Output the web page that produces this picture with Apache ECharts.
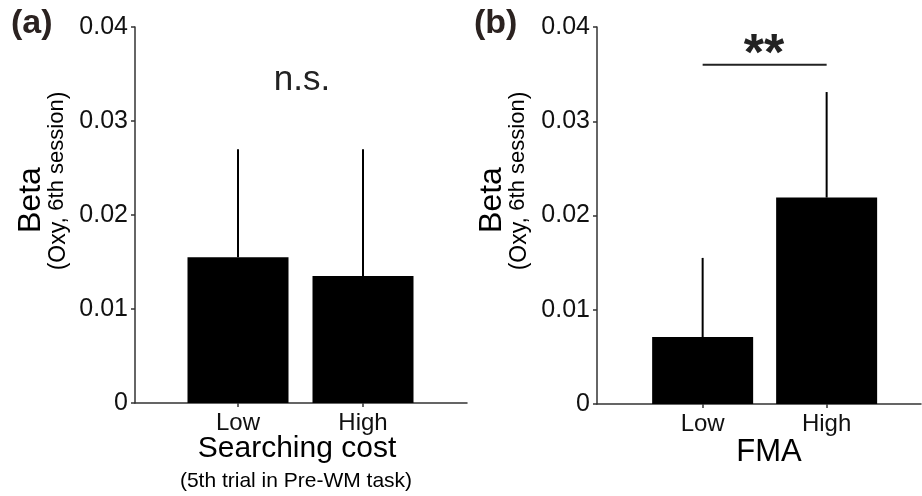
<!DOCTYPE html>
<html><head><meta charset="utf-8">
<script src="https://cdn.jsdelivr.net/npm/echarts@6/dist/echarts.min.js"></script>
<style>html,body{margin:0;padding:0;background:#fff}#c{width:922px;height:496px}</style>
</head><body><div id="c"></div>
<script>
// ---- data ----
const categories = ['Low', 'High'];
const categoryPos = [1, 2];
const meansA = [0.0155, 0.0135];   // Searching cost
const upperA = [0.027, 0.027];     // top of error bars
const meansB = [0.0071, 0.0219];   // FMA
const upperB = [0.0155, 0.0331];
const yMin = 0, yMax = 0.04, yStep = 0.01;
const sigLevelB = 0.036;           // ** bracket level in panel b

const FONT = "'Liberation Sans', Arial, Helvetica, sans-serif";
const chart = echarts.init(document.getElementById('c'), null, {renderer: 'canvas'});

function yAxisCfg(gi) {
  return {
    type: 'value', gridIndex: gi, min: yMin, max: yMax, interval: yStep,
    axisLine: {show: true, lineStyle: {color: '#333', width: 1.5}},
    axisTick: {show: true, length: 4, lineStyle: {color: '#333', width: 1.5}},
    splitLine: {show: false},
    axisLabel: {fontFamily: FONT, fontSize: 25, color: '#111', margin: 7,
      formatter: v => v === 0 ? '0' : v.toFixed(2)}
  };
}
function xAxisCfg(gi, min, max) {
  return {
    type: 'value', gridIndex: gi, min: min, max: max,
    axisLine: {show: true, lineStyle: {color: '#333', width: 1.5}},
    axisTick: {show: true, length: 4, customValues: categoryPos, lineStyle: {color: '#333', width: 1.5}},
    splitLine: {show: false},
    axisLabel: {fontFamily: FONT, fontSize: 24, color: '#111', margin: 8,
      customValues: categoryPos,
      formatter: v => categories[categoryPos.indexOf(Math.round(v))] || ''}
  };
}
function errRender(params, api) {
  const x = api.value(0), lo = api.value(1), hi = api.value(2);
  const p1 = api.coord([x, lo]), p2 = api.coord([x, hi]);
  return {type: 'line', shape: {x1: p1[0], y1: p1[1], x2: p2[0], y2: p2[1]},
          style: {stroke: '#000', lineWidth: 2}};
}
const barData = (means) => categoryPos.map((p, i) => [p, means[i]]);
const errData = (means, up) => categoryPos.map((p, i) => [p, means[i], up[i]]);

const subRich = {
  p: {fontFamily: FONT, fontSize: 23, lineHeight: 25, verticalAlign: 'bottom', fill: '#000'},
  s: {fontFamily: FONT, fontSize: 22, lineHeight: 25, verticalAlign: 'top', fill: '#000'}
};

const option = {
  backgroundColor: '#fff',
  animation: false,
  grid: [
    {left: 135, right: 455, top: 27, bottom: 93, containLabel: false, outerBoundsMode: 'none'},
    {left: 597, right: 1, top: 27, bottom: 92, containLabel: false, outerBoundsMode: 'none'}
  ],
  xAxis: [xAxisCfg(0, 0.176, 2.832), xAxisCfg(1, 0.148, 2.761)],
  yAxis: [yAxisCfg(0), yAxisCfg(1)],
  series: [
    {type: 'bar', xAxisIndex: 0, yAxisIndex: 0, barWidth: 101, data: barData(meansA),
     itemStyle: {color: '#000'}, z: 2},
    {type: 'custom', xAxisIndex: 0, yAxisIndex: 0, renderItem: errRender,
     data: errData(meansA, upperA), encode: {x: 0, y: [1, 2]}, z: 3},
    {type: 'bar', xAxisIndex: 1, yAxisIndex: 1, barWidth: 101, data: barData(meansB),
     itemStyle: {color: '#000'}, z: 2},
    {type: 'custom', xAxisIndex: 1, yAxisIndex: 1, renderItem: errRender,
     data: errData(meansB, upperB), encode: {x: 0, y: [1, 2]}, z: 3},
    {type: 'line', xAxisIndex: 1, yAxisIndex: 1, symbol: 'none', silent: true,
     data: [[categoryPos[0], sigLevelB], [categoryPos[1], sigLevelB]],
     lineStyle: {color: '#222', width: 2}, z: 3}
  ],
  graphic: [
    {type: 'text', left: 11, top: 7, style: {text: '(a)', font: `bold 34px ${FONT}`, fill: '#2b2220'}},
    {type: 'text', left: 474, top: 7, style: {text: '(b)', font: `bold 34px ${FONT}`, fill: '#2b2220'}},
    {type: 'text', x: 302, y: 80, style: {text: 'n.s.', font: `35px ${FONT}`, fill: '#222', align: 'center', verticalAlign: 'middle'}},
    {type: 'text', x: 764, y: 56, style: {text: '**', font: `bold 52px ${FONT}`, fill: '#222', align: 'center', verticalAlign: 'middle'}},
    // y-axis titles
    {type: 'text', x: 31, y: 200, rotation: Math.PI / 2,
     style: {text: 'Beta', font: `32px ${FONT}`, fill: '#000', align: 'center', verticalAlign: 'middle'}},
    {type: 'text', x: 58, y: 181, rotation: Math.PI / 2,
     style: {text: '{p|(Oxy, }{s|6th session}{p|)}', align: 'center', verticalAlign: 'middle', rich: subRich}},
    {type: 'text', x: 492, y: 200, rotation: Math.PI / 2,
     style: {text: 'Beta', font: `32px ${FONT}`, fill: '#000', align: 'center', verticalAlign: 'middle'}},
    {type: 'text', x: 519, y: 181, rotation: Math.PI / 2,
     style: {text: '{p|(Oxy, }{s|6th session}{p|)}', align: 'center', verticalAlign: 'middle', rich: subRich}},
    // x-axis titles
    {type: 'text', x: 297, y: 449, style: {text: 'Searching cost', font: `30px ${FONT}`, fill: '#000', align: 'center', verticalAlign: 'middle'}},
    {type: 'text', x: 296, y: 481, style: {text: '(5th trial in Pre-WM task)', font: `21px ${FONT}`, fill: '#000', align: 'center', verticalAlign: 'middle'}},
    {type: 'text', x: 769, y: 452, style: {text: 'FMA', font: `31px ${FONT}`, fill: '#000', align: 'center', verticalAlign: 'middle'}}
  ]
};
chart.setOption(option);
</script></body></html>
